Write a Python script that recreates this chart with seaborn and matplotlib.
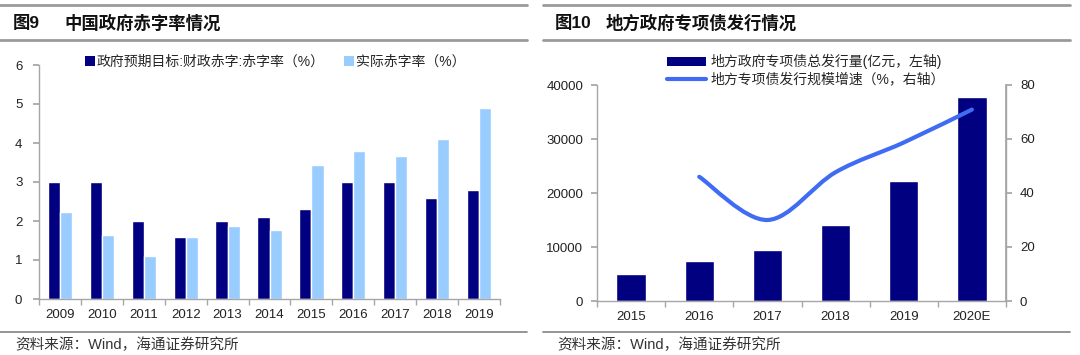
import numpy as np
import pandas as pd
import matplotlib
matplotlib.use("Agg")
import matplotlib.pyplot as plt
from matplotlib.path import Path
from matplotlib.patches import PathPatch, Patch
from matplotlib.lines import Line2D
import seaborn as sns

# ---------------- data ----------------
years_left = ["2009", "2010", "2011", "2012", "2013", "2014", "2015", "2016", "2017", "2018", "2019"]
target_deficit = [3.0, 3.0, 2.0, 1.6, 2.0, 2.1, 2.3, 3.0, 3.0, 2.6, 2.8]
actual_deficit = [2.23, 1.65, 1.10, 1.6, 1.86, 1.77, 3.44, 3.79, 3.67, 4.10, 4.91]
left_series = ["政府预期目标:财政赤字:赤字率（%）", "实际赤字率（%）"]
left_yticks = [0, 1, 2, 3, 4, 5, 6]

years_right = ["2015", "2016", "2017", "2018", "2019", "2020E"]
bond_issuance = [5080, 7350, 9480, 14070, 22140, 37740]
growth_years = ["2016", "2017", "2018", "2019", "2020E"]
growth_rate = [46.0, 30.0, 47.7, 58.7, 70.9]
right_series = ["地方政府专项债总发行量(亿元，左轴)", "地方专项债发行规模增速（%，右轴）"]
right_yticks = [0, 10000, 20000, 30000, 40000]
right_y2ticks = [0, 20, 40, 60, 80]

title_left = ("图9", "中国政府赤字率情况")
title_right = ("图10", "地方政府专项债发行情况")
source_text = "资料来源：Wind，海通证券研究所"

# ---------------- style ----------------
sns.set_theme(style="white")
plt.rcParams["font.family"] = ["Liberation Sans", "Noto Sans CJK SC", "DejaVu Sans"]
plt.rcParams["axes.unicode_minus"] = False

NAVY = "#000080"
LIGHT = "#99CCFF"
LINE = "#3F6CF2"
SPINE = "#A6A6A6"
TXT = "#222222"
W, H = 1080, 355

fig = plt.figure(figsize=(W / 100, H / 100), dpi=100)
fig.patch.set_facecolor("white")

def fx(px):
    return px / W

def fy(py):
    return 1 - py / H

# ---------------- left chart ----------------
axL = fig.add_axes([fx(39), fy(299), fx(500 - 39), (299 - 65) / H])
dfL = pd.DataFrame({
    "year": years_left * 2,
    "value": target_deficit + actual_deficit,
    "series": [left_series[0]] * len(years_left) + [left_series[1]] * len(years_left),
})
sns.barplot(data=dfL, x="year", y="value", hue="series", order=years_left,
            hue_order=left_series, palette=[NAVY, LIGHT], width=0.58,
            saturation=1, legend=False, ax=axL)
axL.set_xlim(-0.5, len(years_left) - 0.5)
axL.set_ylim(0, 6)
axL.set_yticks(left_yticks)
axL.set_xlabel("")
axL.set_ylabel("")
for s in ["top", "right"]:
    axL.spines[s].set_visible(False)
for s in ["left", "bottom"]:
    axL.spines[s].set_color(SPINE)
    axL.spines[s].set_linewidth(1)
axL.set_xticks(np.arange(-0.5, len(years_left), 1.0), minor=True)
axL.tick_params(axis="x", which="major", length=0, pad=7, labelsize=9.5, labelcolor=TXT)
axL.tick_params(axis="x", which="minor", length=4, color=SPINE, direction="out", bottom=True)
axL.tick_params(axis="y", length=4, color=SPINE, direction="out", left=True, pad=8,
                labelsize=9.5, labelcolor=TXT)

handlesL = [Patch(facecolor=NAVY, edgecolor="none"), Patch(facecolor=LIGHT, edgecolor="none")]
fig.legend(handlesL, left_series, loc="upper left", bbox_to_anchor=(fx(85), fy(55)),
           ncol=2, frameon=False, fontsize=10, handlelength=0.7, handleheight=0.7,
           handletextpad=0.15, columnspacing=1.4, borderaxespad=0, borderpad=0)

# ---------------- right chart ----------------
axR = fig.add_axes([fx(597), fy(301), fx(1006 - 597), (301 - 85) / H])
dfR = pd.DataFrame({"year": years_right, "value": bond_issuance})
sns.barplot(data=dfR, x="year", y="value", order=years_right, color=NAVY,
            saturation=1, width=0.43, ax=axR)
axR.set_xlim(-0.5, len(years_right) - 0.5)
axR.set_ylim(0, 40000)
axR.set_yticks(right_yticks)
axR.set_xlabel("")
axR.set_ylabel("")
axR.spines["top"].set_visible(False)
for s in ["left", "bottom", "right"]:
    axR.spines[s].set_color(SPINE)
    axR.spines[s].set_linewidth(1)
axR.set_xticks(np.arange(-0.5, len(years_right), 1.0), minor=True)
axR.tick_params(axis="x", which="major", length=0, pad=7, labelsize=9.5, labelcolor=TXT)
axR.tick_params(axis="x", which="minor", length=4, color=SPINE, direction="out", bottom=True)
axR.tick_params(axis="y", length=4, color=SPINE, direction="out", left=True, pad=6,
                labelsize=9.5, labelcolor=TXT)

ax2 = axR.twinx()
ax2.set_ylim(0, 80)
ax2.set_yticks(right_y2ticks)
for s in ["top", "left", "bottom"]:
    ax2.spines[s].set_visible(False)
ax2.spines["right"].set_color(SPINE)
ax2.tick_params(axis="y", length=4, color=SPINE, direction="out", right=True, pad=6,
                labelsize=9.5, labelcolor=TXT)

# smoothed line (Catmull-Rom style Bezier through the data points)
xpos = np.array([years_right.index(y) for y in growth_years], dtype=float)
ypos = np.array(growth_rate, dtype=float)
P = np.column_stack([xpos, ypos])
n = len(P)
verts = [tuple(P[0])]
codes = [Path.MOVETO]
for i in range(n - 1):
    p0 = P[i - 1] if i > 0 else P[i]
    p1 = P[i]
    p2 = P[i + 1]
    p3 = P[i + 2] if i + 2 < n else P[i + 1]
    c1 = p1 + (p2 - p0) / 6.0
    c2 = p2 - (p3 - p1) / 6.0
    verts += [tuple(c1), tuple(c2), tuple(p2)]
    codes += [Path.CURVE4, Path.CURVE4, Path.CURVE4]
ax2.add_patch(PathPatch(Path(verts, codes), facecolor="none", edgecolor=LINE,
                        linewidth=3, capstyle="round", joinstyle="round"))

handlesR = [Patch(facecolor=NAVY, edgecolor="none"), Line2D([0], [0], color=LINE, lw=3)]
fig.legend(handlesR, right_series, loc="upper left", bbox_to_anchor=(fx(667), fy(54)),
           ncol=1, frameon=False, fontsize=10, handlelength=2.8, handleheight=0.6,
           handletextpad=0.3, labelspacing=0.25, borderaxespad=0, borderpad=0)

# ---------------- titles, rules, sources ----------------
for x0, x1, t in [(0, 527, title_left), (543, 1070, title_right)]:
    fig.add_artist(Line2D([fx(x0), fx(x1)], [fy(5), fy(5)], color="#9A9A9A", lw=2))
    fig.add_artist(Line2D([fx(x0), fx(x1)], [fy(40), fy(40)], color="#9A9A9A", lw=2))
    fig.add_artist(Line2D([fx(x0), fx(x1)], [fy(332), fy(332)], color="#8C8C8C", lw=1.3))

fig.text(fx(13), fy(23), title_left[0], fontsize=12.5, fontweight="bold", va="center",
         ha="left", color="#111111")
fig.text(fx(64), fy(23), title_left[1], fontsize=12.5, fontweight="bold", va="center",
         ha="left", color="#111111")
fig.text(fx(555), fy(23), title_right[0], fontsize=12.5, fontweight="bold", va="center",
         ha="left", color="#111111")
fig.text(fx(606), fy(23), title_right[1], fontsize=12.5, fontweight="bold", va="center",
         ha="left", color="#111111")

fig.text(fx(15), fy(345), source_text, fontsize=10.5, va="center", ha="left", color="#333333")
fig.text(fx(557), fy(345), source_text, fontsize=10.5, va="center", ha="left", color="#333333")

fig.savefig("out.png", dpi=100, facecolor="white")
